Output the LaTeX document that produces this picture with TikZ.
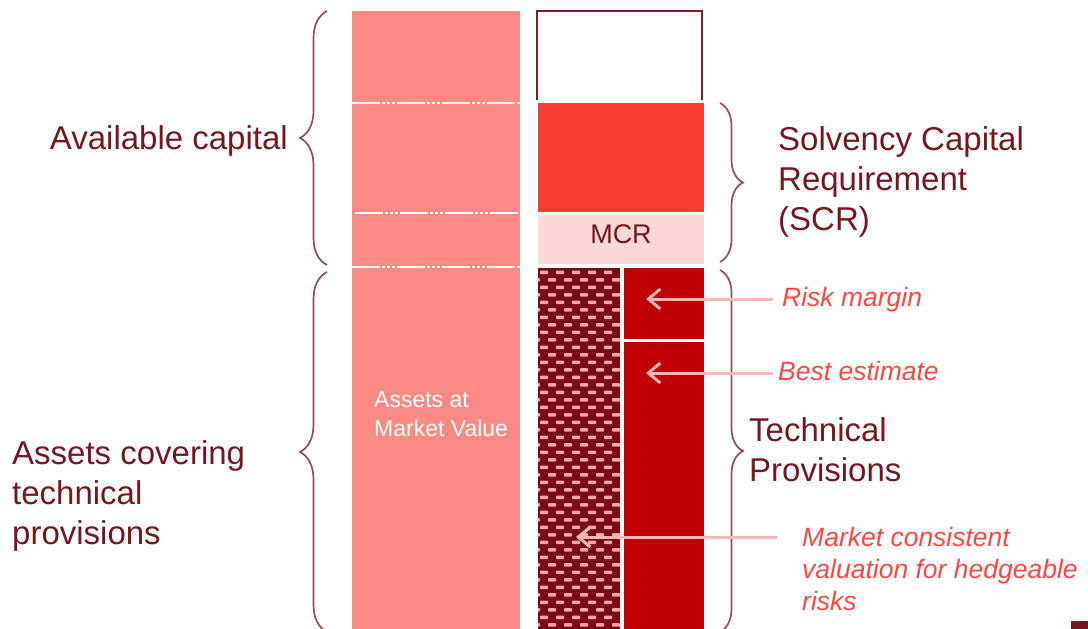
\documentclass[tikz,border=0pt]{standalone}
\usepackage{fontspec}
\setmainfont{Liberation Sans}
\usetikzlibrary{arrows.meta,decorations.pathreplacing}

\definecolor{assetpink}{RGB}{252,138,132}
\definecolor{scrred}{RGB}{252,62,50}
\definecolor{mcrpink}{RGB}{253,215,214}
\definecolor{tpred}{RGB}{192,0,6}
\definecolor{hatchred}{RGB}{122,10,22}
\definecolor{dotpink}{RGB}{244,170,170}
\definecolor{labeldark}{RGB}{118,22,30}
\definecolor{boxedge}{RGB}{130,30,40}
\definecolor{notered}{RGB}{250,72,64}
\definecolor{bracecol}{RGB}{145,78,88}
\definecolor{arrowpink}{RGB}{248,184,184}

\tikzset{
  bigtext/.style={font=\fontsize{33}{40}\selectfont, text=labeldark, inner sep=0pt, align=left},
  notetext/.style={font=\fontsize{26.5}{32}\selectfont\itshape, text=notered, inner sep=0pt, align=left},
  pointer/.style={draw=arrowpink, line width=3pt, -{Straight Barb[length=12pt,width=20pt,line width=3pt]}},
  curly/.style={draw=bracecol, line width=1.7pt, decorate, decoration={brace, amplitude=#1}},
  splitline/.style={white, line width=1.2pt, dash pattern=on 28pt off 2pt on 3pt off 2pt on 3pt off 2pt on 3pt off 2pt}
}

\begin{document}
\begin{tikzpicture}[x=1pt, y=-1pt]
        \useasboundingbox (0,0) rectangle (1088,629);

        % Assets column with the dotted split lines
        \fill[assetpink] (352,11) rectangle (520,629);
        \draw[splitline] (352,103) -- (520,103);
        \draw[splitline] (355,213) -- (518,213);
        \draw[splitline] (352,267) -- (520,267);
        \node[font=\fontsize{23}{29.5}\selectfont, text=white, align=left, inner sep=0pt, anchor=north west] (assets) at (374,391) {Assets at\\Market Value};

        % Liabilities column: free surplus, SCR and MCR
        \draw[boxedge, line width=2.2pt] (537,100) -- (537,11) -- (702,11) -- (702,100);
        \fill[scrred] (538,103) rectangle (704,212);
        \fill[mcrpink] (538,215) rectangle (704,264);
        \node[font=\fontsize{27}{32}\selectfont, text=labeldark, inner sep=0pt] (mcr) at (621,234) {MCR};

        % Hedgeable part, filled with a brick of small dashes
        \fill[hatchred] (538,268) rectangle (620,629);
        \begin{scope}
          \clip (538,268) rectangle (620,629);
          \foreach \row in {0,...,48} {
            \pgfmathsetmacro{\shift}{mod(\row,2)*8}
            \foreach \col in {-1,...,5}
              \fill[dotpink, rounded corners=0.8pt] (540+\shift+\col*16, 270.5+\row*7.5) rectangle ++(8,3.6);
          }
        \end{scope}

        % Risk margin and best estimate
        \fill[tpred] (624,268) rectangle (704,339);
        \fill[tpred] (624,342) rectangle (704,629);

        % Braces
        \draw[curly=27pt] (327,265) -- (327,11);
        \draw[curly=27pt] (327,632) -- (327,272);
        \draw[curly=23pt] (720,103) -- (720,262);
        \draw[curly=23pt] (720,270) -- (720,632);

        % Labels on the left
        \node[bigtext, anchor=base east] (avail) at (288,149) {Available capital};
        \node[bigtext, anchor=north west] (covering) at (12,440) {Assets covering\\technical\\provisions};

        % Labels on the right
        \node[bigtext, anchor=north west] (scrlabel) at (778,126) {Solvency Capital\\Requirement\\(SCR)};
        \node[bigtext, anchor=north west] (tplabel) at (749,417) {Technical\\Provisions};

        % Pointers to the parts of the technical provisions
        \coordinate (rmtail) at (773,299);
        \coordinate (rmtip) at (646,299);
        \coordinate (betail) at (773,373);
        \coordinate (betip) at (646,373);
        \coordinate (mctail) at (777,537);
        \coordinate (mctip) at (576,537);

        \node[notetext, anchor=base west] (risk) at (782,306) {Risk margin};
        \node[notetext, anchor=base west] (best) at (778,380) {Best estimate};
        \node[notetext, anchor=north west] (market) at (802,527) {Market consistent\\valuation for hedgeable\\risks};

        \draw[pointer] (rmtail) -- (rmtip);
        \draw[pointer] (betail) -- (betip);
        \draw[pointer] (mctail) -- (mctip);

        % Corner mark
        \fill[labeldark] (1071,621) rectangle (1088,629);

    \end{tikzpicture}
\end{document}
